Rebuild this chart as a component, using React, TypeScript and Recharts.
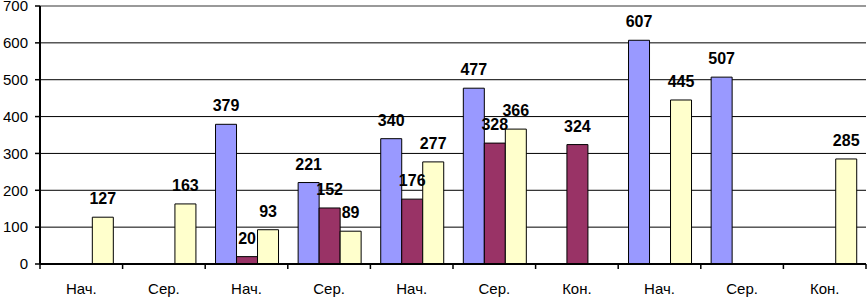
import { BarChart, Bar, XAxis, YAxis, CartesianGrid, LabelList, ReferenceLine } from 'recharts'

const categories = ['Нач.', 'Сер.', 'Нач.', 'Сер.', 'Нач.', 'Сер.', 'Кон.', 'Нач.', 'Сер.', 'Кон.']
const blueValues = [null, null, 379, 221, 340, 477, null, 607, 507, null]
const maroonValues = [null, null, 20, 152, 176, 328, 324, null, null, null]
const yellowValues = [127, 163, 93, 89, 277, 366, null, 445, null, 285]
const yTicks = [0, 100, 200, 300, 400, 500, 600, 700]

const data = categories.map((name, i) => ({
  name,
  idx: i,
  blue: blueValues[i],
  maroon: maroonValues[i],
  yellow: yellowValues[i],
}))

const FONT = 'Arial, "Liberation Sans", sans-serif'

function CategoryTick(props: any) {
  const { x, y, payload, index } = props
  const half = payload.offset ?? 0
  return (
    <g>
      <line x1={x - half} y1={y} x2={x - half} y2={y + 5} stroke="#000" strokeWidth={1.5} />
      {index === categories.length - 1 && (
        <line x1={x + half} y1={y} x2={x + half} y2={y + 5} stroke="#000" strokeWidth={1.5} />
      )}
      <text x={x} y={y + 30} textAnchor="middle" fontSize={15} fontFamily={FONT} fill="#000">
        {payload.value}
      </text>
    </g>
  )
}

function ValueLabel(props: any) {
  const { x, y, width, value } = props
  if (value === null || value === undefined) return null
  return (
    <text
      x={x + width / 2}
      y={y - 13}
      textAnchor="middle"
      fontSize={16}
      fontWeight="bold"
      fontFamily={FONT}
      fill="#000"
    >
      {value}
    </text>
  )
}

export default function App() {
  return (
    <div style={{ position: 'absolute', left: 0, top: 0 }}>
      <BarChart
        width={867}
        height={298}
        data={data}
        margin={{ top: 6, right: 1, left: 0, bottom: 0 }}
        barCategoryGap="12.5%"
        barGap={0}
      >
        <CartesianGrid vertical={false} stroke="#000" strokeWidth={1} />
        <XAxis
          dataKey="name"
          height={34}
          tickLine={false}
          tickSize={0}
          tickMargin={0}
          axisLine={{ stroke: '#000', strokeWidth: 2 }}
          tick={<CategoryTick />}
          interval={0}
        />
        <XAxis xAxisId="edge" type="number" domain={[0, categories.length]} hide />
        <YAxis
          width={40}
          domain={[0, 700]}
          ticks={yTicks}
          tickSize={5}
          tickMargin={7}
          tickLine={{ stroke: '#000', strokeWidth: 1.5 }}
          axisLine={{ stroke: '#000', strokeWidth: 2 }}
          tick={{ fontSize: 15, fill: '#000', fontFamily: FONT }}
          interval={0}
        />
        <ReferenceLine y={700} stroke="#999" strokeWidth={2} />
        <ReferenceLine xAxisId="edge" x={categories.length} stroke="#999" strokeWidth={2} />
        <Bar dataKey="blue" fill="#9999FF" stroke="#000" strokeWidth={1} isAnimationActive={false}>
          <LabelList dataKey="blue" content={<ValueLabel />} />
        </Bar>
        <Bar dataKey="maroon" fill="#993366" stroke="#000" strokeWidth={1} isAnimationActive={false}>
          <LabelList dataKey="maroon" content={<ValueLabel />} />
        </Bar>
        <Bar dataKey="yellow" fill="#FFFFCC" stroke="#000" strokeWidth={1} isAnimationActive={false}>
          <LabelList dataKey="yellow" content={<ValueLabel />} />
        </Bar>
      </BarChart>
    </div>
  )
}
